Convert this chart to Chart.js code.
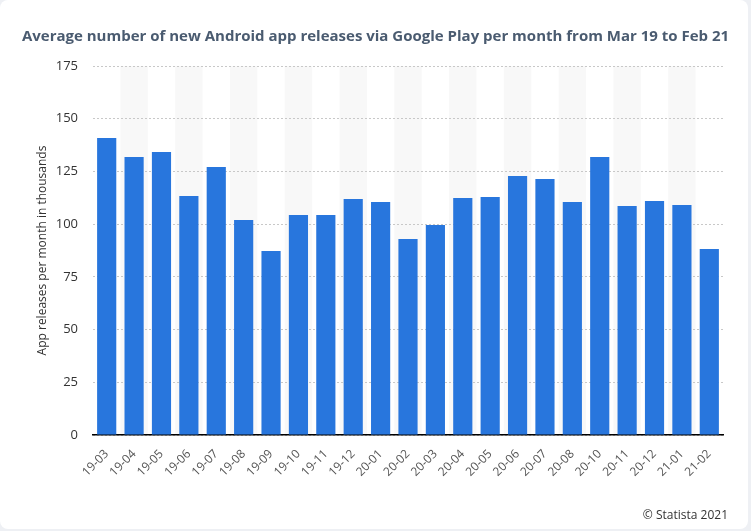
<!DOCTYPE html>
<html>
<head>
<meta charset="utf-8">
<script src="https://cdn.jsdelivr.net/npm/chart.js@4.4.1/dist/chart.umd.min.js"></script>
<style>
  html, body { margin: 0; padding: 0; }
  body { width: 751px; height: 531px; background: #eef0f4; position: relative; overflow: hidden; font-family: "Open Sans", sans-serif; }
  .card { position: absolute; left: 0; top: 0; width: 748px; height: 529px; background: #fff; border-radius: 8px; }
  #chart { position: absolute; left: 0; top: 0; }
  .title { position: absolute; left: 0; top: 25px; width: 751px; text-align: center; font-size: 15px; font-weight: 700; color: #4a5b70; }
  .credits { position: absolute; right: 23px; top: 506px; font-size: 12px; color: #333; }
</style>
</head>
<body>
<div class="card"></div>
<canvas id="chart" width="751" height="531"></canvas>
<div class="title">Average number of new Android app releases via Google Play per month from Mar 19 to Feb 21</div>
<div class="credits">© Statista 2021</div>
<script>
// Monate (Jahr-Monat), 20-09 fehlt im Original
const months = ['19-03', '19-04', '19-05', '19-06', '19-07', '19-08', '19-09', '19-10', '19-11', '19-12',
    '20-01', '20-02', '20-03', '20-04', '20-05', '20-06', '20-07', '20-08', '20-10', '20-11', '20-12', '21-01', '21-02'];
// App-Releases pro Monat in Tausend
const releases = [140.8, 131.8, 134.2, 113.3, 127.1, 102, 87.3, 104.3, 104.3, 111.9,
    110.5, 93, 99.6, 112.4, 112.9, 122.8, 121.4, 110.5, 131.8, 108.6, 111, 109.1, 88.2];
const yTicks = [0, 25, 50, 75, 100, 125, 150, 175];

// graue Streifen hinter jeder zweiten Kategorie
const stripes = {
    id: 'stripes',
    beforeDraw(chart) {
        const { ctx, chartArea, scales } = chart;
        const w = (chartArea.right - chartArea.left) / months.length;
        ctx.save();
        ctx.fillStyle = '#f8f8f8';
        months.forEach((m, i) => {
            if (i % 2 === 1) {
                const x = scales.x.getPixelForValue(i) - w / 2;
                ctx.fillRect(x, chartArea.top, w, chartArea.bottom - chartArea.top);
            }
        });
        ctx.restore();
    }
};

new Chart(document.getElementById('chart'), {
    type: 'bar',
    data: {
        labels: months,
        datasets: [{
            data: releases,
            backgroundColor: '#2876dd',
            categoryPercentage: 1,
            barPercentage: 0.7
        }]
    },
    options: {
        responsive: false,
        animation: false,
        layout: { padding: { top: 66, right: 28, left: 0, bottom: 0 } },
        plugins: {
            legend: { display: false },
            tooltip: { enabled: false }
        },
        scales: {
            x: {
                grid: { display: false },
                border: { display: true, color: '#000', width: 1.5 },
                ticks: {
                    color: '#555',
                    font: { family: 'Open Sans', size: 12 },
                    minRotation: 45,
                    maxRotation: 45,
                    autoSkip: false,
                    padding: 4
                },
                afterFit: s => { s.height = 96; }
            },
            y: {
                min: 0,
                max: 175,
                afterBuildTicks: s => { s.ticks = yTicks.map(v => ({ value: v })); },
                grid: { color: '#c8c8c8', lineWidth: 1, drawTicks: false },
                border: { display: false, dash: [2, 2] },
                ticks: {
                    color: '#333',
                    font: { family: 'Open Sans', size: 13 },
                    padding: 15
                },
                title: {
                    display: true,
                    text: 'App releases per month in thousands',
                    color: '#333',
                    font: { family: 'Open Sans', size: 12 },
                    padding: { top: 35, bottom: 6 }
                },
                afterFit: s => { s.width = 93; }
            }
        }
    },
    plugins: [stripes]
});
</script>
</body>
</html>
